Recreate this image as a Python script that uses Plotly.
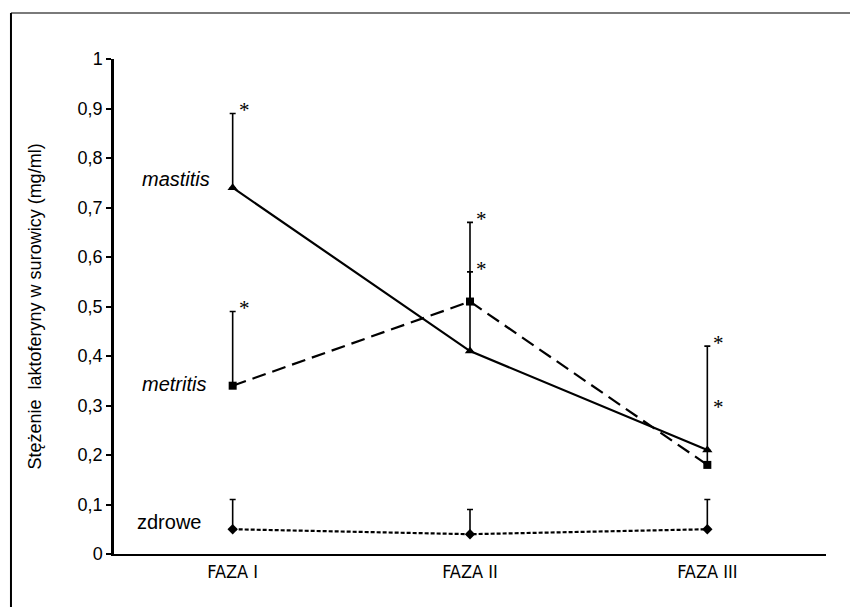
import plotly.graph_objects as go

categories = ["FAZA I", "FAZA II", "FAZA III"]
mastitis = [0.74, 0.41, 0.21]
mastitis_err = [0.15, 0.16, 0.0]
metritis = [0.34, 0.51, 0.18]
metritis_err = [0.15, 0.16, 0.24]
zdrowe = [0.05, 0.04, 0.05]
zdrowe_err = [0.06, 0.05, 0.06]
star_x = ["FAZA I", "FAZA I", "FAZA II", "FAZA II", "FAZA III", "FAZA III"]
star_y = [0.89, 0.49, 0.67, 0.57, 0.42, 0.29]
yticks = [0, 0.1, 0.2, 0.3, 0.4, 0.5, 0.6, 0.7, 0.8, 0.9, 1]
ytick_text = ["0", "0,1", "0,2", "0,3", "0,4", "0,5", "0,6", "0,7", "0,8", "0,9", "1"]

BASE = "Liberation Sans, Arial, sans-serif"
NARROW = "Liberation Sans Narrow, Arial Narrow, DejaVu Sans Condensed, sans-serif"

fig = go.Figure()

def err(vals):
    return dict(type="data", symmetric=False, array=vals, arrayminus=[0]*len(vals),
                color="black", thickness=1.6, width=3, visible=True)

fig.add_trace(go.Scatter(x=categories, y=zdrowe, mode="lines+markers", name="zdrowe",
                         line=dict(color="black", width=2.2, dash="4px,2px"),
                         marker=dict(symbol="diamond", size=8, color="black"),
                         error_y=err(zdrowe_err)))
fig.add_trace(go.Scatter(x=categories, y=metritis, mode="lines+markers", name="metritis",
                         line=dict(color="black", width=2.2, dash="14px,7px"),
                         marker=dict(symbol="square", size=8, color="black"),
                         error_y=err(metritis_err)))
fig.add_trace(go.Scatter(x=categories, y=mastitis, mode="lines+markers", name="mastitis",
                         line=dict(color="black", width=2.2),
                         marker=dict(symbol="triangle-up", size=9, color="black"),
                         error_y=err(mastitis_err)))

for sx, sy in zip(star_x, star_y):
    fig.add_annotation(x=sx, y=sy, text="*", showarrow=False, xanchor="left", yanchor="middle",
                       xshift=4, yshift=3, font=dict(family="Liberation Serif, Times New Roman, serif",
                                                      size=21, color="black"))

labels = [("mastitis", 0.758, True, -57), ("metritis", 0.343, True, -59), ("zdrowe", 0.065, False, -64)]
for txt, ly, it, dx in labels:
    fig.add_annotation(x="FAZA I", y=ly, text=f"<i>{txt}</i>" if it else txt, showarrow=False,
                       xanchor="center", yanchor="middle", xshift=dx,
                       font=dict(family=BASE, size=20, color="black"))

fig.add_annotation(xref="paper", yref="paper", x=-0.111, y=0.5, text="Stężenie  laktoferyny w surowicy (mg/ml)",
                   showarrow=False, textangle=-90, xanchor="center", yanchor="middle",
                   font=dict(family=BASE, size=18, color="black"))

# outer frame (top and left edges)
fig.add_shape(type="line", xref="paper", yref="paper", x0=-0.1447, x1=1.04, y0=1.093, y1=1.093,
              line=dict(color="#7a7a7a", width=2))
fig.add_shape(type="line", xref="paper", yref="paper", x0=-0.1447, x1=-0.1447, y0=1.093, y1=-0.11,
              line=dict(color="black", width=2))

fig.update_layout(
    width=850, height=607,
    margin=dict(l=114, r=24, t=59, b=53),
    paper_bgcolor="white", plot_bgcolor="white",
    showlegend=False,
    xaxis=dict(type="category", range=[-0.5, 2.5], showline=True, linecolor="black", linewidth=2,
               ticks="", showgrid=False, zeroline=False,
               tickfont=dict(family=NARROW, size=18, color="black")),
    yaxis=dict(range=[0, 1], tickvals=yticks, ticktext=ytick_text, showline=True, linecolor="black",
               linewidth=2.5, ticks="outside", ticklen=5, tickwidth=2, tickcolor="black",
               showgrid=False, zeroline=False,
               tickfont=dict(family=BASE, size=18, color="black")),
)

fig.write_html("out.html", config={"displayModeBar": False},
               post_script="document.body.style.margin='0px';document.body.style.padding='0px';")
